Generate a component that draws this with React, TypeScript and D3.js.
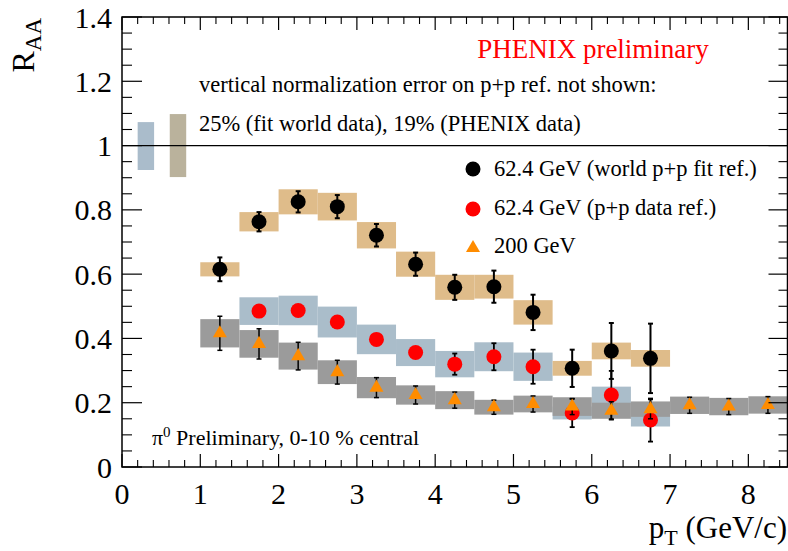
import React from "react";
import * as d3 from "d3";

const W = 788;
const H = 551;

// 62.4 GeV, world p+p fit reference (black)
const blackPt = [1.25, 1.75, 2.25, 2.75, 3.25, 3.75, 4.25, 4.75, 5.25, 5.75, 6.25, 6.75];
const blackVal = [0.615, 0.763, 0.825, 0.81, 0.721, 0.631, 0.559, 0.561, 0.481, 0.307, 0.361, 0.338];
const blackStat = [0.037, 0.03, 0.033, 0.036, 0.035, 0.036, 0.039, 0.05, 0.055, 0.058, 0.087, 0.108];
const blackSys = [0.022, 0.03, 0.039, 0.043, 0.041, 0.039, 0.039, 0.037, 0.038, 0.023, 0.026, 0.026];

// 62.4 GeV, p+p data reference (red)
const redPt = [1.75, 2.25, 2.75, 3.25, 3.75, 4.25, 4.75, 5.25, 5.75, 6.25, 6.75];
const redVal = [0.485, 0.487, 0.451, 0.397, 0.356, 0.32, 0.343, 0.312, 0.168, 0.224, 0.146];
const redStat = [0.012, 0.012, 0.012, 0.014, 0.016, 0.033, 0.042, 0.053, 0.044, 0.075, 0.067];
const redSys = [0.043, 0.046, 0.048, 0.046, 0.042, 0.041, 0.045, 0.044, 0.02, 0.026, 0.02];

// 200 GeV (orange)
const orangePt = [1.25, 1.75, 2.25, 2.75, 3.25, 3.75, 4.25, 4.75, 5.25, 5.75, 6.25, 6.75, 7.25, 7.75, 8.25];
const orangeVal = [0.416, 0.383, 0.345, 0.295, 0.247, 0.224, 0.208, 0.186, 0.196, 0.188, 0.175, 0.18, 0.192, 0.188, 0.193];
const orangeStat = [0.053, 0.047, 0.043, 0.037, 0.031, 0.028, 0.025, 0.022, 0.025, 0.025, 0.028, 0.03, 0.025, 0.025, 0.026];
const orangeSys = [0.044, 0.043, 0.042, 0.037, 0.033, 0.03, 0.028, 0.023, 0.026, 0.029, 0.025, 0.024, 0.027, 0.027, 0.027];

// normalization boxes
const normX0 = [0.2, 0.61];
const normX1 = [0.41, 0.82];
const normLo = [0.924, 0.902];
const normHi = [1.073, 1.098];
const normColors = ["#aabccb", "#bab29c"];

const legendLabels = [
  "62.4 GeV (world p+p fit ref.)",
  "62.4 GeV (p+p data ref.)",
  "200 GeV",
];

const xMajor = [0, 1, 2, 3, 4, 5, 6, 7, 8];
const yMajor = [0, 0.2, 0.4, 0.6, 0.8, 1.0, 1.2, 1.4];

const BIN_HALF = 0.25;
const FONT = "Liberation Serif, Times New Roman, Times, DejaVu Serif, serif";

const COL_TAN = "#dfbc8a";
const COL_BLUE = "#aabdca";
const COL_GRAY = "#9b9b9b";
const COL_ORANGE = "#ff8c00";

const T = (props: any) => <text {...props} style={{ fontFamily: FONT }} />;

export default function App() {
  const L = 122, R = 787.5, Tp = 17, B = 467;
  const x = d3.scaleLinear().domain([0, 8.5]).range([L, R]);
  const y = d3.scaleLinear().domain([0, 1.4]).range([B, Tp]);

  const xMinor = d3.range(0, 8.5 + 1e-9, 0.2).filter((v) => Math.abs(v - Math.round(v)) > 1e-6);
  const yMinor = d3.range(0, 1.4 + 1e-9, 0.05).filter((v) => Math.abs(v * 5 - Math.round(v * 5)) > 1e-6);

  const tri = d3.symbol().type(d3.symbolTriangle).size(85)();

  const boxes = (pts: number[], vals: number[], sys: number[], color: string, key: string) =>
    pts.map((p, i) => (
      <rect
        key={key + i}
        x={x(p - BIN_HALF)}
        width={x(p + BIN_HALF) - x(p - BIN_HALF)}
        y={y(vals[i] + sys[i])}
        height={y(vals[i] - sys[i]) - y(vals[i] + sys[i])}
        fill={color}
      />
    ));

  const errs = (pts: number[], vals: number[], stat: number[], sw: number, key: string) =>
    pts.map((p, i) => {
      const cx = x(p);
      const y1 = y(vals[i] + stat[i]);
      const y2 = y(vals[i] - stat[i]);
      return (
        <g key={key + i} stroke="#000" strokeWidth={sw}>
          <line x1={cx} x2={cx} y1={y1} y2={y2} />
          <line x1={cx - 2.5} x2={cx + 2.5} y1={y1} y2={y1} />
          <line x1={cx - 2.5} x2={cx + 2.5} y1={y2} y2={y2} />
        </g>
      );
    });

  const fmt = (v: number) => String(+v.toFixed(1));

  return (
    <svg width={W} height={H} style={{ position: "absolute", left: 0, top: 0, background: "#fff", fontFamily: FONT }}>
      <rect x={0} y={0} width={W} height={H} fill="#fff" />
      {/* systematic boxes */}
      {boxes(redPt, redVal, redSys, COL_BLUE, "rb")}
      {boxes(orangePt, orangeVal, orangeSys, COL_GRAY, "ob")}
      {boxes(blackPt, blackVal, blackSys, COL_TAN, "bb")}
      {/* normalization boxes */}
      {normX0.map((v, i) => (
        <rect key={"n" + i} x={x(v)} width={x(normX1[i]) - x(v)} y={y(normHi[i])} height={y(normLo[i]) - y(normHi[i])} fill={normColors[i]} />
      ))}
      {/* unity line */}
      <line x1={L} x2={R} y1={y(1)} y2={y(1)} stroke="#000" strokeWidth={1.3} />

      {/* red points */}
      {errs(redPt, redVal, redStat, 1.8, "re")}
      {redPt.map((p, i) => (
        <circle key={"rc" + i} cx={x(p)} cy={y(redVal[i])} r={7.5} fill="#ff0000" />
      ))}
      {/* orange points */}
      {errs(orangePt, orangeVal, orangeStat, 1.5, "oe")}
      {orangePt.map((p, i) => (
        <path key={"ot" + i} d={tri} transform={`translate(${x(p)},${y(orangeVal[i])})`} fill={COL_ORANGE} />
      ))}
      {/* black points */}
      {errs(blackPt, blackVal, blackStat, 2, "be")}
      {blackPt.map((p, i) => (
        <circle key={"bc" + i} cx={x(p)} cy={y(blackVal[i])} r={7.5} fill="#000" />
      ))}

      {/* frame */}
      <rect x={L} y={Tp} width={R - L} height={B - Tp} fill="none" stroke="#000" strokeWidth={1.5} />
      {/* x ticks */}
      {xMajor.map((v) => (
        <g key={"xt" + v} stroke="#000" strokeWidth={1.2}>
          <line x1={x(v)} x2={x(v)} y1={B} y2={B - 13} />
          <line x1={x(v)} x2={x(v)} y1={Tp} y2={Tp + 13} />
        </g>
      ))}
      {xMinor.map((v, i) => (
        <g key={"xm" + i} stroke="#000" strokeWidth={1.1}>
          <line x1={x(v)} x2={x(v)} y1={B} y2={B - 7} />
          <line x1={x(v)} x2={x(v)} y1={Tp} y2={Tp + 7} />
        </g>
      ))}
      {/* y ticks */}
      {yMajor.map((v) => (
        <g key={"yt" + v} stroke="#000" strokeWidth={1.2}>
          <line x1={L} x2={L + 20} y1={y(v)} y2={y(v)} />
          <line x1={R} x2={R - 19} y1={y(v)} y2={y(v)} />
        </g>
      ))}
      {yMinor.map((v, i) => (
        <g key={"ym" + i} stroke="#000" strokeWidth={1.1}>
          <line x1={L} x2={L + 10} y1={y(v)} y2={y(v)} />
          <line x1={R} x2={R - 9} y1={y(v)} y2={y(v)} />
        </g>
      ))}
      {/* tick labels */}
      {yMajor.map((v) => (
        <T key={"yl" + v} x={112} y={y(v)} dy="0.35em" textAnchor="end" fontSize={30}>
          {fmt(v)}
        </T>
      ))}
      {xMajor.map((v) => (
        <T key={"xl" + v} x={x(v)} y={504} textAnchor="middle" fontSize={30}>
          {v}
        </T>
      ))}

      {/* axis titles */}
      <T transform="translate(34,18) rotate(-90)" textAnchor="end" fontSize={32}>
        R<tspan fontSize={23} dy={7}>AA</tspan>
      </T>
      <T x={787} y={538} textAnchor="end" fontSize={31}>
        p<tspan fontSize={22} dy={7}>T</tspan>
        <tspan dy={-7}> (GeV/c)</tspan>
      </T>

      {/* annotations */}
      <T x={593} y={58} textAnchor="middle" fontSize={27} fill="#ff0000">
        PHENIX preliminary
      </T>
      <T x={199} y={92} fontSize={22.5}>
        vertical normalization error on p+p ref. not shown:
      </T>
      <T x={199} y={131} fontSize={22.5}>
        25% (fit world data), 19% (PHENIX data)
      </T>
      <T x={152} y={445} fontSize={22}>
        π<tspan fontSize={15} dy={-8}>0</tspan>
        <tspan dy={8}> Preliminary, 0-10 % central</tspan>
      </T>

      {/* legend */}
      <circle cx={473} cy={169} r={7.5} fill="#000" />
      <circle cx={473} cy={209} r={7.5} fill="#ff0000" />
      <path d={tri} transform="translate(473,248)" fill={COL_ORANGE} />
      {legendLabels.map((s, i) => (
        <T key={"lg" + i} x={494} y={176 + i * 38.5} fontSize={22.5}>
          {s}
        </T>
      ))}
    </svg>
  );
}
